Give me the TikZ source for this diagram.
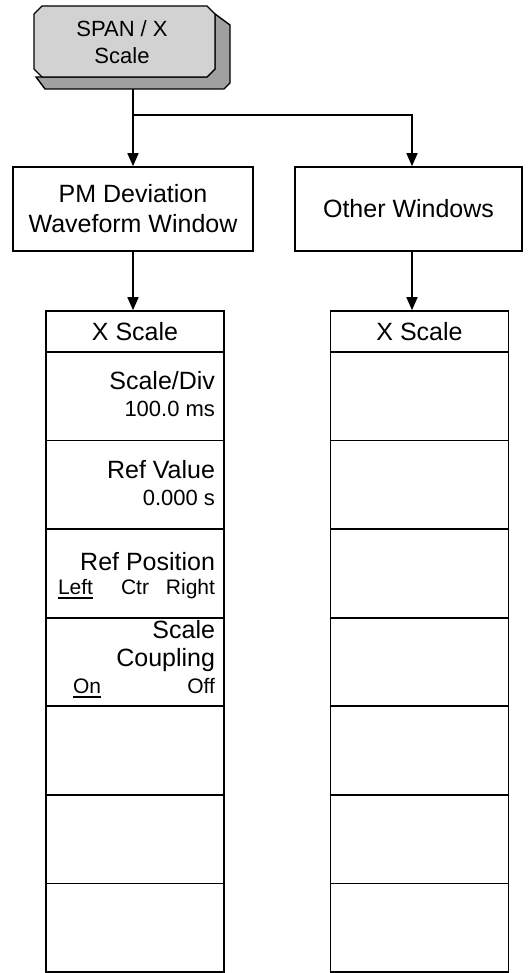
\documentclass[tikz,border=0pt]{standalone}
\usepackage{fontspec}
\setmainfont{Liberation Sans}
\usetikzlibrary{arrows.meta}
\definecolor{keyface}{HTML}{D2D2D2}
\definecolor{keyshade}{HTML}{A0A0A0}
\newcommand{\ulword}[1]{\leavevmode\setbox0=\hbox{#1}\rlap{\rule[-5pt]{\wd0}{1.6pt}}\box0}
\begin{document}
\begin{tikzpicture}[x=1pt,y=-1pt,
  line width=1.6pt,
  bigtxt/.style={font=\fontsize{25}{30}\selectfont},
  midtxt/.style={font=\fontsize{22}{26}\selectfont},
  smalltxt/.style={font=\fontsize{21}{25}\selectfont},
  winbox/.style={draw, rectangle, minimum height=84pt, inner sep=0pt, align=center, bigtxt},
  hdrbox/.style={draw, rectangle, minimum width=178pt, minimum height=41pt, inner sep=0pt, bigtxt},
  rowbox/.style={draw, rectangle, minimum width=178pt, minimum height=88.57pt, inner sep=0pt},
  lbl/.style={inner sep=0pt, outer sep=0pt},
  conn/.style={-{Triangle[width=11pt,length=13pt]}, line width=1.6pt}
]
\useasboundingbox (0,0) rectangle (528,973);

% hard key
\fill[keyshade, draw=black, line width=1.4pt]
  (215,14) -- (230,25) -- (230,83) -- (224,89) -- (45,89) -- (36,77) -- (42,77) -- (207,77) -- (215,69) -- cycle;
\filldraw[fill=keyface, draw=black, line width=1.4pt]
  (42,6) -- (207,6) -- (215,14) -- (215,69) -- (207,77) -- (42,77) -- (34,69) -- (34,14) -- cycle;
\node[lbl, align=center, font=\fontsize{22}{27}\selectfont] (key) at (122,42) {SPAN / X\\Scale};

% window boxes
\node[winbox, minimum width=240pt] (pm) at (133,209) {PM Deviation\\Waveform Window};
\node[winbox, minimum width=227pt] (ow) at (408.5,209) {Other Windows};

% softkey panels
\node[hdrbox] (lh) at (135,331.5) {X Scale};
\node[hdrbox] (rh) at (419.5,331.5) {X Scale};
\foreach \i in {1,...,7} {
  \node[rowbox] (l\i) at (135,{352+(\i-0.5)*88.57}) {};
  \node[rowbox] (r\i) at (419.5,{352+(\i-0.5)*88.57}) {};
}

% connectors
\coordinate (kb) at (133,89);
\coordinate (br) at (133,115);
\coordinate (rb) at (412,115);
\draw[conn] (kb) -- (kb |- pm.north);
\draw[conn] (br) -- (rb) -- (rb |- ow.north);
\draw[conn] (pm.south) -- (pm.south |- lh.north);
\draw[conn] (ow.south -| rb) -- (rb |- rh.north);

% softkey labels
\node[lbl, bigtxt, anchor=base east] (sd) at (215,389) {Scale/Div};
\node[lbl, midtxt, anchor=base east] (sdv) at (215,416) {100.0 ms};
\node[lbl, bigtxt, anchor=base east] (rv) at (215,478) {Ref Value};
\node[lbl, midtxt, anchor=base east] (rvv) at (215,505) {0.000 s};
\node[lbl, bigtxt, anchor=base east] (rp) at (215,570) {Ref Position};
\node[lbl, smalltxt, anchor=base west] (rpl) at (58,594) {\ulword{Left}};
\node[lbl, smalltxt, anchor=base west] (rpc) at (121,594) {Ctr};
\node[lbl, smalltxt, anchor=base east] (rpr) at (215,594) {Right};
\node[lbl, bigtxt, anchor=base east] (sc1) at (215,638) {Scale};
\node[lbl, bigtxt, anchor=base east] (sc2) at (215,666) {Coupling};
\node[lbl, smalltxt, anchor=base west] (scon) at (73,693) {\ulword{On}};
\node[lbl, smalltxt, anchor=base east] (scoff) at (215,693) {Off};
\end{tikzpicture}
\end{document}
